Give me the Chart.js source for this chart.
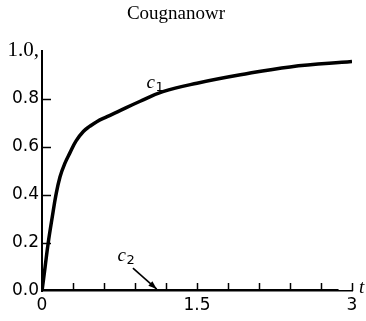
<!DOCTYPE html>
<html>
<head>
<meta charset="utf-8">
<script src="https://cdn.jsdelivr.net/npm/chart.js@4"></script>
<style>
  html, body { margin: 0; padding: 0; background: #fff; }
  #wrap { width: 366px; height: 321px; }
</style>
</head>
<body>
<div id="wrap"><canvas id="myChart"></canvas></div>
<script>
// time values and concentrations
let c1Times = [0, 0.03, 0.06, 0.1, 0.135, 0.174, 0.22, 0.27, 0.33, 0.40, 0.46, 0.53, 0.63, 0.73, 0.95, 1.17, 1.5, 1.92, 2.4, 3.0];
let c1Values = [0, 0.1, 0.2, 0.31, 0.4, 0.475, 0.53, 0.575, 0.625, 0.664, 0.685, 0.705, 0.726, 0.746, 0.79, 0.83, 0.865, 0.90, 0.933, 0.955];
let c2Times = [0, 0.5, 1.0, 1.5, 2.0, 2.5, 2.87];
let c2Values = [0, 0, 0, 0, 0, 0, 0];

let xTickLabels = { 0: '0', 1.5: '1.5', 3: '3' };
let yTickLabels = ['0.0', '0.2', '0.4', '0.6', '0.8', '1.0,'];

function toPoints(xs, ys) {
    return xs.map((x, i) => ({ x: x, y: ys[i] }));
}

// ticks drawn inward, plus the curve labels and the c2 arrow
let extras = {
    id: 'extras',
    afterDraw(chart) {
        let c = chart.ctx;
        let xs = chart.scales.x;
        let ys = chart.scales.y;
        let area = chart.chartArea;
        c.save();
        c.strokeStyle = '#000';
        c.lineWidth = 1.5;
        xs.ticks.forEach(t => {
            if (t.value < 0.01) return;
            let px = Math.round(xs.getPixelForValue(t.value)) + 0.5;
            c.beginPath();
            c.moveTo(px, area.bottom);
            c.lineTo(px, area.bottom - 8);
            c.stroke();
        });
        ys.ticks.forEach(t => {
            if (t.value < 0.01 || t.value > 0.99) return;
            let py = Math.round(ys.getPixelForValue(t.value)) + 0.5;
            c.beginPath();
            c.moveTo(area.left, py);
            c.lineTo(area.left + 9, py);
            c.stroke();
        });

        c.fillStyle = '#000';
        c.textBaseline = 'alphabetic';
        // c1 label
        let lx = xs.getPixelForValue(1.06), ly = ys.getPixelForValue(0.86);
        c.font = 'italic 19px "Liberation Serif"';
        c.fillText('c', lx - 5, ly + 4);
        c.font = '13px "DejaVu Sans"';
        c.fillText('1', lx + 4, ly + 7);
        // c2 label
        lx = xs.getPixelForValue(0.78); ly = ys.getPixelForValue(0.14);
        c.font = 'italic 19px "Liberation Serif"';
        c.fillText('c', lx - 5, ly + 4);
        c.font = '13px "DejaVu Sans"';
        c.fillText('2', lx + 4, ly + 7);
        // arrow to c2
        let ax = xs.getPixelForValue(0.88), ay = ys.getPixelForValue(0.095);
        let bx = xs.getPixelForValue(1.11), by = ys.getPixelForValue(0.008);
        c.lineWidth = 1.6;
        c.beginPath();
        c.moveTo(ax, ay);
        c.lineTo(bx, by);
        c.stroke();
        let ang = Math.atan2(by - ay, bx - ax);
        c.beginPath();
        c.moveTo(bx, by);
        c.lineTo(bx - 9 * Math.cos(ang - 0.35), by - 9 * Math.sin(ang - 0.35));
        c.lineTo(bx - 9 * Math.cos(ang + 0.35), by - 9 * Math.sin(ang + 0.35));
        c.closePath();
        c.fill();
        // axis name
        c.font = 'italic 19px "Liberation Serif"';
        c.fillText('t', area.right + 7, area.bottom + 2);
        c.restore();
    }
};

let ctx = document.getElementById('myChart').getContext('2d');
let chart = new Chart(ctx, {
    type: 'line',
    data: {
        datasets: [{
            label: 'c1',
            data: toPoints(c1Times, c1Values),
            borderColor: '#000',
            borderWidth: 3.5,
            pointRadius: 0,
            tension: 0.4,
            fill: false
        }, {
            label: 'c2',
            data: toPoints(c2Times, c2Values),
            borderColor: '#000',
            borderWidth: 4,
            pointRadius: 0,
            fill: false
        }]
    },
    options: {
        responsive: true,
        maintainAspectRatio: false,
        animation: false,
        layout: { padding: { top: 0, right: 14, bottom: 0, left: 0 } },
        plugins: {
            legend: { display: false },
            tooltip: { enabled: false },
            title: {
                display: true,
                text: 'Cougnanowr',
                color: '#000',
                font: { family: '"Liberation Serif"', size: 19, weight: 'normal' },
                padding: { top: 3, bottom: 25 }
            }
        },
        scales: {
            x: {
                type: 'linear',
                min: 0,
                max: 3,
                afterFit(scale) { scale.height = 30; },
                border: { display: true, color: '#000', width: 1.5 },
                grid: { display: false, drawTicks: false },
                ticks: {
                    stepSize: 0.3,
                    autoSkip: false,
                    maxRotation: 0,
                    padding: 4,
                    color: '#000',
                    font: { family: '"DejaVu Sans"', size: 17 },
                    callback: function (value) {
                        let key = Math.round(value * 10) / 10;
                        return xTickLabels[key] !== undefined ? xTickLabels[key] : '';
                    }
                }
            },
            y: {
                min: 0,
                max: 1,
                afterFit(scale) { scale.width = 42; },
                border: { display: true, color: '#000', width: 2 },
                grid: { display: false, drawTicks: false },
                ticks: {
                    stepSize: 0.2,
                    padding: 3,
                    color: '#000',
                    font: function (context) {
                        if (context.tick && context.tick.value > 0.99) {
                            return { family: '"Liberation Serif"', size: 21 };
                        }
                        return { family: '"DejaVu Sans"', size: 17 };
                    },
                    callback: function (value) {
                        return yTickLabels[Math.round(value * 5)];
                    }
                }
            }
        }
    },
    plugins: [extras]
});
</script>
</body>
</html>
